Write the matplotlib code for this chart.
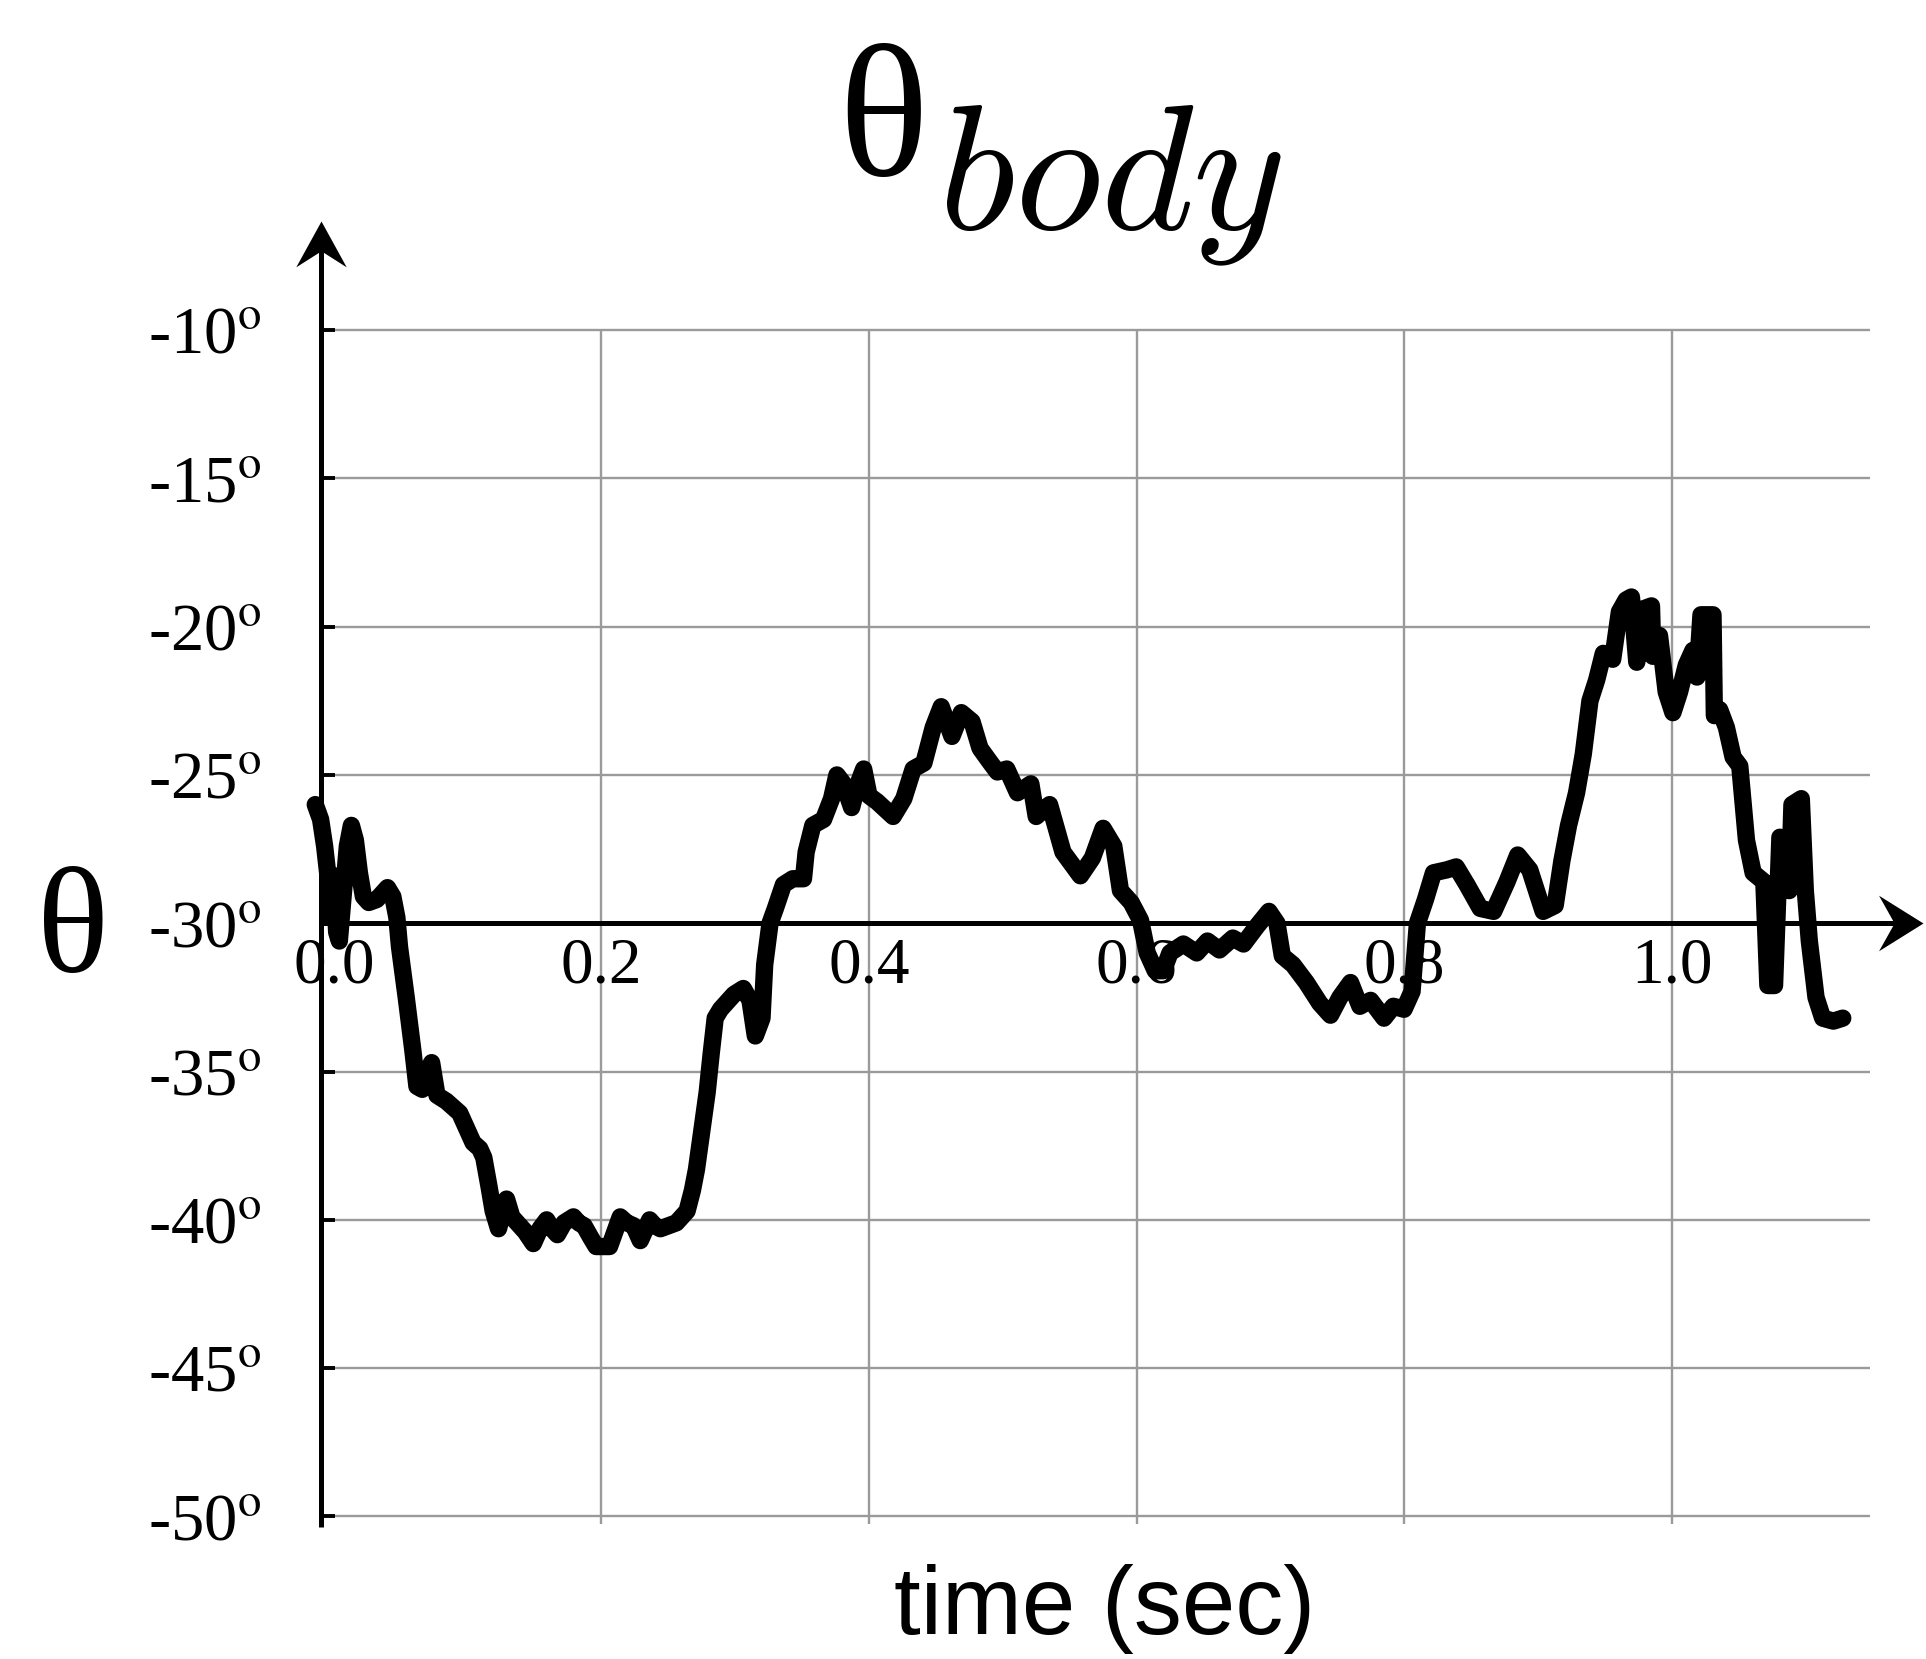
import numpy as np
import matplotlib.pyplot as plt
from matplotlib.path import Path

# body pitch angle trace
time_s = [
    -0.014, -0.010, -0.007, -0.004, -0.002, 0.000, 0.002, 0.004, 0.007, 0.010,
    0.013, 0.016, 0.019, 0.022, 0.026, 0.032, 0.036, 0.040, 0.044, 0.047,
    0.049, 0.054, 0.059, 0.062, 0.066, 0.070, 0.073, 0.077, 0.084, 0.089,
    0.094, 0.099, 0.104, 0.109, 0.112, 0.116, 0.119, 0.123, 0.126, 0.129,
    0.133, 0.137, 0.143, 0.149, 0.154, 0.159, 0.163, 0.167, 0.172, 0.179,
    0.183, 0.187, 0.192, 0.196, 0.206, 0.210, 0.214, 0.219, 0.224, 0.229,
    0.233, 0.236, 0.240, 0.244, 0.250, 0.256, 0.264, 0.268, 0.271, 0.275,
    0.279, 0.282, 0.285, 0.289, 0.299, 0.306, 0.311, 0.315, 0.320, 0.322,
    0.326, 0.330, 0.336, 0.343, 0.351, 0.353, 0.358, 0.366, 0.372, 0.376,
    0.381, 0.387, 0.391, 0.396, 0.400, 0.406, 0.418, 0.426, 0.433, 0.441,
    0.448, 0.454, 0.462, 0.469, 0.477, 0.483, 0.491, 0.496, 0.503, 0.511,
    0.521, 0.525, 0.535, 0.545, 0.558, 0.567, 0.575, 0.583, 0.588, 0.596,
    0.603, 0.608, 0.614, 0.620, 0.625, 0.635, 0.645, 0.653, 0.662, 0.672,
    0.680, 0.690, 0.699, 0.705, 0.709, 0.717, 0.727, 0.737, 0.745, 0.752,
    0.760, 0.767, 0.775, 0.785, 0.792, 0.800, 0.806, 0.810, 0.816, 0.822,
    0.832, 0.839, 0.847, 0.857, 0.867, 0.877, 0.885, 0.894, 0.904, 0.913,
    0.918, 0.923, 0.929, 0.934, 0.939, 0.944, 0.949, 0.956, 0.961, 0.966,
    0.970, 0.974, 0.979, 0.985, 0.986, 0.991, 0.996, 1.001, 1.006, 1.011,
    1.016, 1.019, 1.022, 1.031, 1.032, 1.036, 1.041, 1.046, 1.051, 1.056,
    1.061, 1.069, 1.072, 1.077, 1.081, 1.085, 1.088, 1.090, 1.097, 1.100,
    1.103, 1.108, 1.113, 1.121, 1.128,
]
theta_deg = [
    -26.0, -26.5, -27.4, -28.6, -29.8, -28.4, -30.3, -30.6, -29.0, -27.4,
    -26.7, -27.2, -28.3, -29.1, -29.3, -29.2, -29.0, -28.8, -29.1, -29.8,
    -30.8, -32.5, -34.3, -35.5, -35.6, -35.0, -34.7, -35.8, -36.0, -36.2,
    -36.4, -36.9, -37.4, -37.6, -37.9, -38.9, -39.7, -40.3, -39.8, -39.3,
    -39.9, -40.1, -40.4, -40.8, -40.3, -40.0, -40.3, -40.5, -40.1, -39.9,
    -40.1, -40.2, -40.6, -40.9, -40.9, -40.4, -39.9, -40.1, -40.2, -40.7,
    -40.3, -40.0, -40.2, -40.3, -40.2, -40.1, -39.7, -39.0, -38.3, -37.0,
    -35.7, -34.4, -33.2, -32.9, -32.4, -32.2, -32.6, -33.8, -33.2, -31.4,
    -30.0, -29.5, -28.7, -28.5, -28.5, -27.6, -26.7, -26.5, -25.8, -25.0,
    -25.3, -26.1, -25.4, -24.8, -25.7, -25.9, -26.4, -25.8, -24.8, -24.6,
    -23.4, -22.7, -23.7, -22.9, -23.2, -24.1, -24.6, -24.9, -24.8, -25.6,
    -25.3, -26.4, -26.0, -27.6, -28.4, -27.8, -26.8, -27.4, -28.9, -29.3,
    -29.9, -31.0, -31.6, -31.6, -31.0, -30.7, -31.0, -30.6, -30.9, -30.5,
    -30.7, -30.1, -29.6, -30.0, -31.1, -31.4, -32.0, -32.7, -33.1, -32.5,
    -32.0, -32.8, -32.6, -33.2, -32.8, -32.9, -32.3, -30.0, -29.2, -28.3,
    -28.2, -28.1, -28.7, -29.5, -29.6, -28.6, -27.7, -28.2, -29.6, -29.4,
    -27.9, -26.7, -25.6, -24.3, -22.5, -21.8, -20.9, -21.1, -19.5, -19.1,
    -19.0, -21.2, -19.4, -19.3, -21.0, -20.3, -22.2, -22.9, -22.2, -21.3,
    -20.8, -21.7, -19.6, -19.6, -23.0, -22.8, -23.4, -24.4, -24.7, -27.2,
    -28.3, -28.6, -32.1, -32.1, -27.1, -27.2, -28.9, -26.0, -25.8, -28.9,
    -30.6, -32.5, -33.2, -33.3, -33.2,
]

x_ticks = [0.0, 0.2, 0.4, 0.6, 0.8, 1.0]
x_tick_labels = ['0.0', '0.2', '0.4', '0.6', '0.8', '1.0']
y_ticks = [-10, -15, -20, -25, -30, -35, -40, -45, -50]
y_tick_labels = [f'{v}' + r'$^{\mathrm{o}}$' for v in y_ticks]
grid_x = [0.2, 0.4, 0.6, 0.8, 1.0]
grid_y = [-10, -15, -20, -25, -35, -40, -45, -50]

plt.rcParams['font.family'] = 'Liberation Serif'
plt.rcParams['mathtext.fontset'] = 'stix'

fig = plt.figure(figsize=(19.26, 16.59), dpi=100)
ax = fig.add_axes([0.16646, 0.0752, 0.83338, 0.7938])
x_lo, x_hi = -0.010, 1.19
y_lo, y_hi = -50.6, -6.2
ax.set_xlim(x_lo, x_hi)
ax.set_ylim(y_lo, y_hi)
for s in ax.spines.values():
    s.set_visible(False)
ax.spines['bottom'].set_position(('data', -30))

# light grid
grid_right = 1.148
ax.hlines(grid_y, x_lo, grid_right, colors='#9a9a9a', lw=1.7, zorder=1)
ax.vlines(grid_x, -50.25, -10, colors='#9a9a9a', lw=1.7, zorder=1)

# axes drawn as arrows
x_tip, y_tip = 1.188, -6.33
ax.plot([x_lo, x_tip - 0.02], [-30, -30], color='k', lw=3.6, zorder=2,
        solid_capstyle='butt', clip_on=False)
ax.plot([x_lo, x_lo], [-50.35, y_tip - 0.8], color='k', lw=3.6, zorder=2,
        solid_capstyle='butt', clip_on=False)
head_r = Path([(0, 0), (-2, 1.25), (-1.3, 0), (-2, -1.25), (0, 0)],
              [Path.MOVETO, Path.LINETO, Path.LINETO, Path.LINETO, Path.CLOSEPOLY])
head_u = Path([(0, 0), (1.1, -2), (0, -1.3), (-1.1, -2), (0, 0)],
              [Path.MOVETO, Path.LINETO, Path.LINETO, Path.LINETO, Path.CLOSEPOLY])
ax.plot([x_tip], [-30], marker=head_r, ms=64, color='k', mew=0, clip_on=False, zorder=3)
ax.plot([x_lo], [y_tip], marker=head_u, ms=66, color='k', mew=0, clip_on=False, zorder=3)

ax.plot(time_s, theta_deg, color='k', lw=12.5, solid_joinstyle='round',
        solid_capstyle='round', zorder=4, clip_on=False)

ax.set_xticks(x_ticks, x_tick_labels)
ax.set_yticks(y_ticks, y_tick_labels)
ax.tick_params(axis='x', length=0, pad=10, labelsize=47)
ax.tick_params(axis='y', direction='in', length=10, width=2.8, pad=42, labelsize=48)

fig.text(0.5737, 0.0301, 'time (sec)', family='Liberation Sans', fontsize=69,
         ha='center', va='center')
fig.text(0.0379, 0.4358, 'θ', fontsize=108, ha='center', va='center')
fig.text(0.4585, 0.8945, 'θ', fontsize=135, ha='center', va='baseline')
fig.text(0.4870, 0.8620, r'$body$', fontsize=128, math_fontfamily='cm',
         ha='left', va='baseline')

fig.savefig('out.png', dpi=100)
